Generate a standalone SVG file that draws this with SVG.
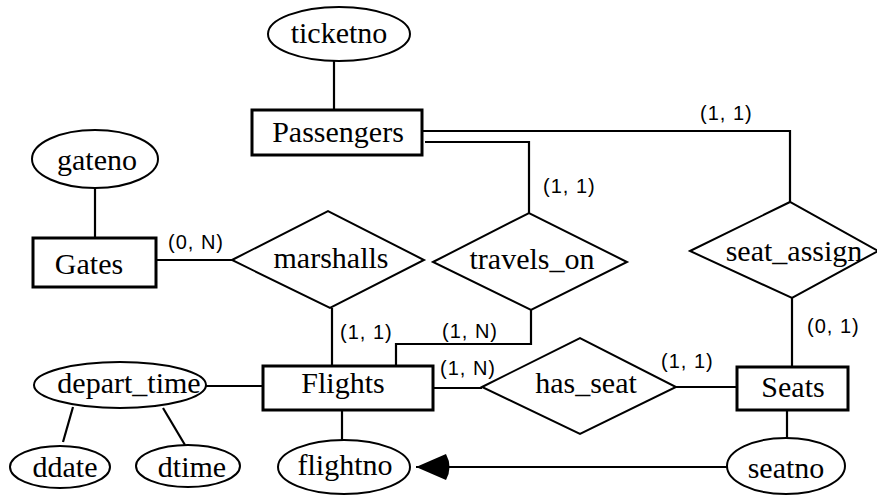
<svg xmlns="http://www.w3.org/2000/svg" width="877" height="496" viewBox="0 0 877 496">
  <style>
    .ent { fill: #fff; stroke: #000; stroke-width: 3; }
    .att { fill: #fff; stroke: #000; stroke-width: 2; }
    .rel { fill: #fff; stroke: #000; stroke-width: 2; stroke-linejoin: miter; }
    .edge { fill: none; stroke: #000; stroke-width: 2.2; }
    .name { font-size: 30px; fill: #000; text-anchor: middle; }
    .card { font-size: 20px; letter-spacing: 1px; fill: #000; }
  </style>
  <defs>
    <!-- filled head with a rounded back, tip at the line end -->
    <marker id="head" viewBox="-8 0 42 28" refX="32" refY="14" markerWidth="42" markerHeight="28" markerUnits="userSpaceOnUse" orient="auto">
      <path d="M32,14 L2,1 Q-5,14 2,27 Z" fill="#000"/>
    </marker>
  </defs>
  <rect width="877" height="496" fill="#fff"/>

  <!-- connectors -->
  <g id="connectors">
    <line class="edge" x1="334" y1="61" x2="334" y2="110"/>
    <line class="edge" x1="95" y1="188" x2="95" y2="238"/>
    <line class="edge" x1="156" y1="260" x2="232" y2="260"/>
    <path class="edge" d="M422,131 H790 V202"/>
    <path class="edge" d="M425,142 H529 V213"/>
    <line class="edge" x1="332" y1="308" x2="332" y2="366"/>
    <path class="edge" d="M531,310 V344 H396 V366"/>
    <line class="edge" x1="206" y1="386" x2="263" y2="386"/>
    <line class="edge" x1="433" y1="388" x2="482" y2="388"/>
    <line class="edge" x1="676" y1="387" x2="737" y2="387"/>
    <line class="edge" x1="792" y1="298" x2="792" y2="367"/>
    <line class="edge" x1="787" y1="410" x2="787" y2="438"/>
    <line class="edge" x1="342" y1="410" x2="342" y2="440"/>
    <line class="edge" x1="73" y1="407" x2="63" y2="442"/>
    <line class="edge" x1="163" y1="408" x2="185" y2="445"/>
    <line class="edge" x1="727" y1="467" x2="416" y2="467" marker-end="url(#head)"/>
  </g>

  <!-- cardinality labels -->
  <g id="cardinalities" font-family="'Liberation Sans', Arial, sans-serif">
    <text class="card" x="168" y="249">(0, N)</text>
    <text class="card" x="700" y="120">(1, 1)</text>
    <text class="card" x="543" y="193">(1, 1)</text>
    <text class="card" x="340" y="339">(1, 1)</text>
    <text class="card" x="442" y="338">(1, N)</text>
    <text class="card" x="440" y="375">(1, N)</text>
    <text class="card" x="661" y="368">(1, 1)</text>
    <text class="card" x="807" y="333">(0, 1)</text>
  </g>

  <g id="nodes" font-family="'Liberation Serif', 'Times New Roman', Times, serif">
    <!-- entities -->
    <g id="Passengers">
      <rect class="ent" x="252" y="110" width="170" height="45"/>
      <text class="name" x="338" y="142">Passengers</text>
    </g>
    <g id="Gates">
      <rect class="ent" x="33" y="238" width="123" height="49"/>
      <text class="name" x="89" y="274">Gates</text>
    </g>
    <g id="Flights">
      <rect class="ent" x="263" y="366" width="170" height="44"/>
      <text class="name" x="343" y="393">Flights</text>
    </g>
    <g id="Seats">
      <rect class="ent" x="737" y="367" width="111" height="43"/>
      <text class="name" x="793" y="397">Seats</text>
    </g>

    <!-- relationships -->
    <g id="marshalls">
      <polygon class="rel" points="232,260 328,211 424,260 330,308"/>
      <text class="name" x="331" y="268">marshalls</text>
    </g>
    <g id="travels_on">
      <polygon class="rel" points="433,262 529,213 627,262 531,310"/>
      <text class="name" x="532" y="269">travels_on</text>
    </g>
    <g id="has_seat">
      <polygon class="rel" points="482,387 580,338 676,387 580,434"/>
      <text class="name" x="586" y="393">has_seat</text>
    </g>
    <g id="seat_assign">
      <polygon class="rel" points="690,251 790,202 878,251 792,298"/>
      <text class="name" x="794" y="261">seat_assign</text>
    </g>

    <!-- attributes -->
    <g id="ticketno">
      <ellipse class="att" cx="339" cy="34" rx="71" ry="27"/>
      <text class="name" x="339" y="43">ticketno</text>
    </g>
    <g id="gateno">
      <ellipse class="att" cx="95" cy="159" rx="63" ry="29"/>
      <text class="name" x="97" y="170">gateno</text>
    </g>
    <g id="depart_time">
      <ellipse class="att" cx="120" cy="385" rx="86" ry="23"/>
      <text class="name" x="129" y="393">depart_time</text>
    </g>
    <g id="ddate">
      <ellipse class="att" cx="60" cy="467" rx="50" ry="21"/>
      <text class="name" x="65" y="477">ddate</text>
    </g>
    <g id="dtime">
      <ellipse class="att" cx="188" cy="466" rx="52" ry="21"/>
      <text class="name" x="192" y="477">dtime</text>
    </g>
    <g id="flightno">
      <ellipse class="att" cx="344" cy="467" rx="66" ry="27"/>
      <text class="name" x="345" y="475">flightno</text>
    </g>
    <g id="seatno">
      <ellipse class="att" cx="786" cy="466" rx="59" ry="28"/>
      <text class="name" x="786" y="478">seatno</text>
    </g>
  </g>
</svg>
